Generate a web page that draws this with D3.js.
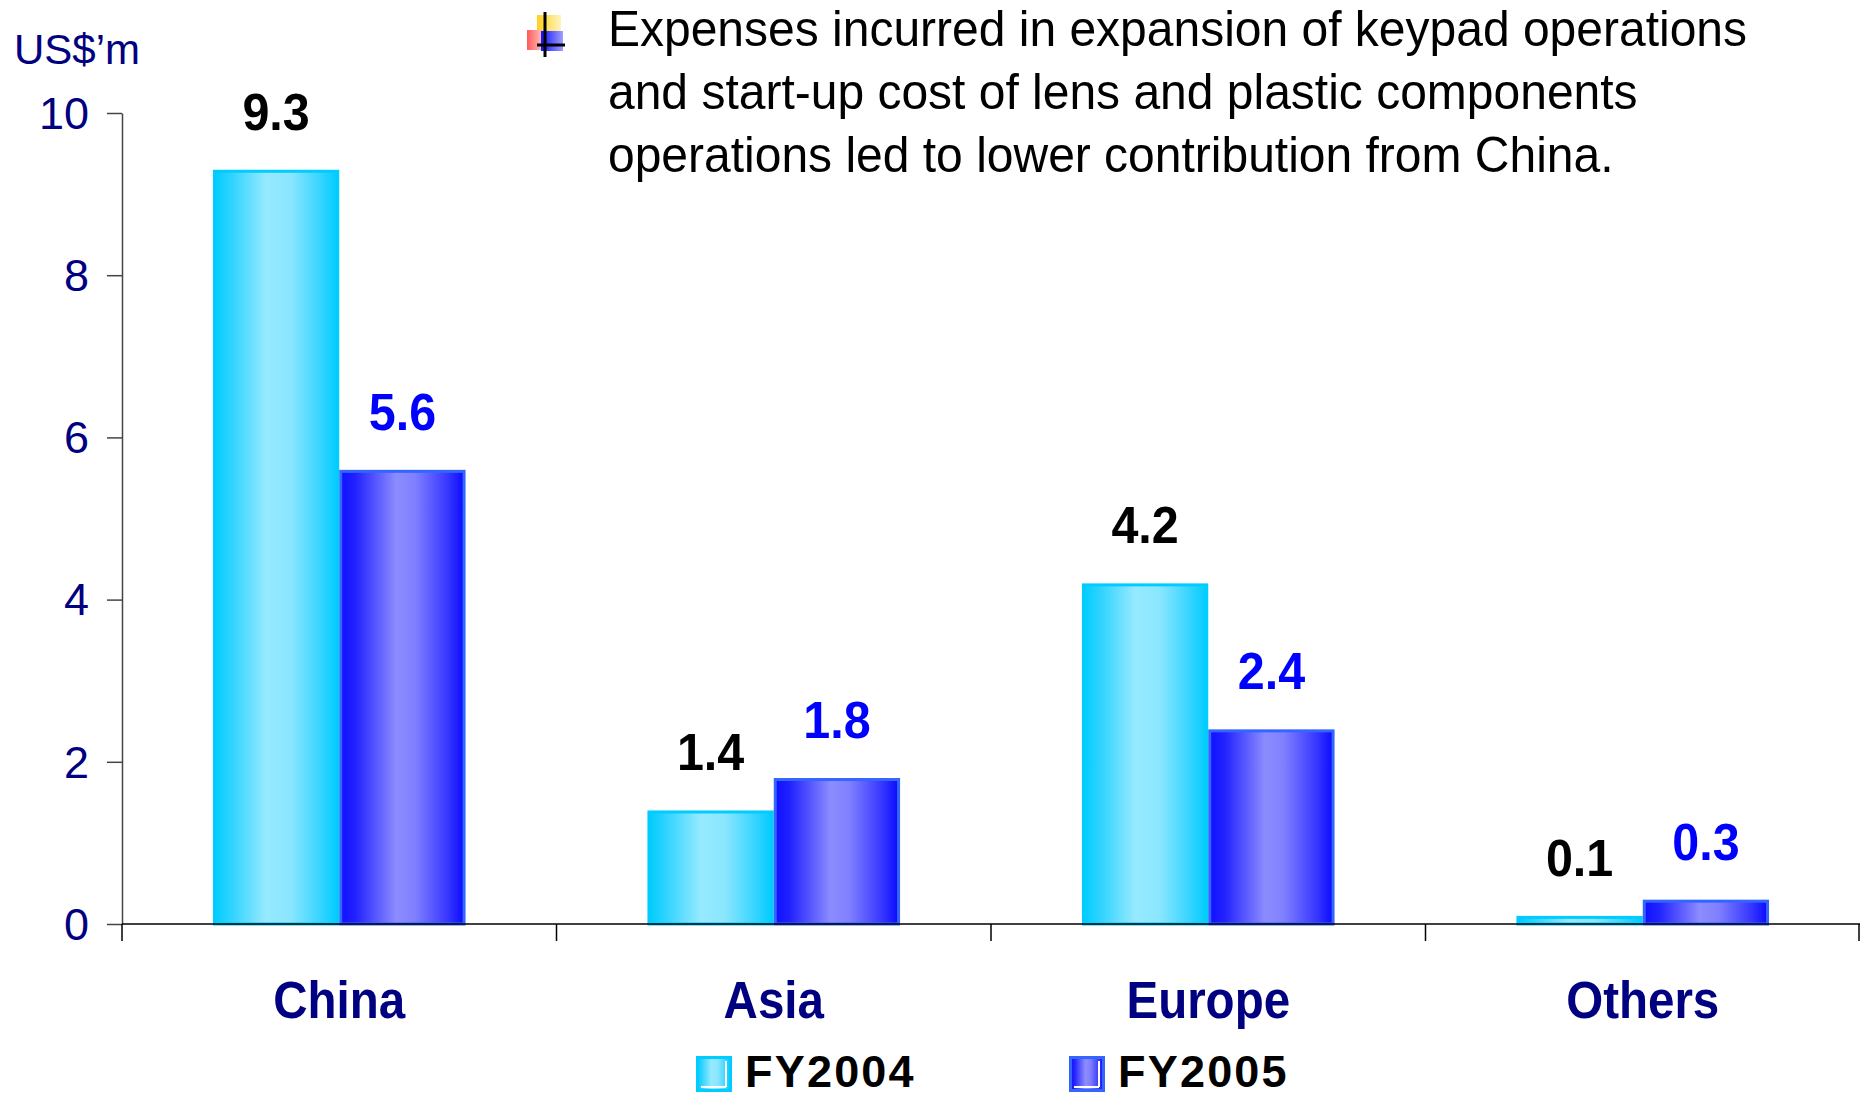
<!DOCTYPE html>
<html><head><meta charset="utf-8">
<script src="https://cdn.jsdelivr.net/npm/d3@7"></script>
<style>body{margin:0;background:#fff}svg{display:block}</style>
</head><body>
<svg id="c" width="1860" height="1097"></svg>
<script>
const categories = ["China", "Asia", "Europe", "Others"];
const seriesNames = ["FY2004", "FY2005"];
const fy2004 = [9.3, 1.4, 4.2, 0.1];
const fy2005 = [5.6, 1.8, 2.4, 0.3];
const yTicks = [0, 2, 4, 6, 8, 10];
const unitLabel = "US$\u2019m";
const noteLines = [
  "Expenses incurred in expansion of keypad operations",
  "and start-up cost of lens and plastic components",
  "operations led to lower contribution from China."
];

const svg = d3.select("#c");
const W = 1860, H = 1097;
const m = {left: 122, right: 0, top: 113, bottom: H - 924};
const FONT = "Arial, 'Liberation Sans', sans-serif";

const defs = svg.append("defs");
function grad(id, stops) {
  const g = defs.append("linearGradient").attr("id", id).attr("x1", "0").attr("x2", "1").attr("y1", "0").attr("y2", "0");
  stops.forEach(s => g.append("stop").attr("offset", s[0]).attr("stop-color", s[1]));
}
grad("g0", [[0, "#00CCFF"], [0.15, "#33D4FF"], [0.42, "#96EAFF"], [0.62, "#8AE6FF"], [0.85, "#3AD5FF"], [1, "#00CCFF"]]);
grad("g1", [[0, "#1010FF"], [0.12, "#2222FF"], [0.45, "#8C8CFF"], [0.6, "#8080FF"], [0.88, "#3333FF"], [1, "#0A0AFF"]]);
const fills = ["url(#g0)", "url(#g1)"];
const strokes = ["#00CCFF", "#3366FF"];
const labelColors = ["#000000", "#0000FF"];

const x0 = d3.scaleBand().domain(categories).range([m.left, W - m.right]).paddingInner(0).paddingOuter(0);
const x1 = d3.scaleBand().domain(seriesNames).range([0, x0.bandwidth()]).paddingInner(0).paddingOuter(0.72);
const y = d3.scaleLinear().domain([0, 10]).range([924, 113]);

const data = categories.map((c, i) => ({cat: c, vals: [fy2004[i], fy2005[i]]}));

// bars
const groups = svg.append("g").selectAll("g").data(data).join("g")
  .attr("transform", d => `translate(${x0(d.cat)},0)`);
groups.selectAll("rect").data(d => d.vals.map((v, k) => ({v, k})))
  .join("rect")
  .attr("x", d => x1(seriesNames[d.k]) + 1.5)
  .attr("width", x1.bandwidth() - 3)
  .attr("y", d => y(d.v) + 1.5)
  .attr("height", d => Math.max(0, y(0) - y(d.v) - 1.5))
  .attr("fill", d => fills[d.k])
  .attr("stroke", d => strokes[d.k])
  .attr("stroke-width", 3);

// value labels
groups.selectAll("text.val").data(d => d.vals.map((v, k) => ({v, k})))
  .join("text").attr("class", "val")
  .attr("transform", d => `translate(${x1(seriesNames[d.k]) + x1.bandwidth() / 2},${y(d.v) - 40}) scale(0.95,1.03)`)
  .attr("text-anchor", "middle")
  .attr("font-family", FONT).attr("font-weight", "bold").attr("font-size", 51)
  .attr("fill", d => labelColors[d.k])
  .text(d => d.v.toFixed(1));

// y axis
const yAxis = svg.append("g").attr("transform", `translate(${m.left},0)`)
  .call(d3.axisLeft(y).tickValues(yTicks).tickSize(15).tickPadding(18).tickSizeOuter(0));
yAxis.select(".domain").attr("stroke", "#444").attr("stroke-width", 1.5);
yAxis.selectAll(".tick line").attr("stroke", "#444").attr("stroke-width", 1.5);
yAxis.selectAll(".tick text").attr("font-family", FONT).attr("font-size", 45)
  .attr("fill", "#000080").attr("dy", "0.34em");

// x axis
const xAxisG = svg.append("g").attr("transform", `translate(0,${y(0)})`);
xAxisG.append("line").attr("x1", m.left).attr("x2", W).attr("stroke", "#000").attr("stroke-width", 1.5);
const bounds = categories.map(c => x0(c)).concat([x0(categories[categories.length - 1]) + x0.bandwidth()]);
xAxisG.selectAll("line.tk").data(bounds).join("line").attr("class", "tk")
  .attr("x1", d => Math.min(d, W - 1)).attr("x2", d => Math.min(d, W - 1)).attr("y1", 0).attr("y2", 17)
  .attr("stroke", "#000").attr("stroke-width", 1.5);
xAxisG.selectAll("text").data(categories).join("text")
  .attr("transform", d => `translate(${x0(d) + x0.bandwidth() / 2},94) scale(0.95,1.03)`)
  .attr("text-anchor", "middle")
  .attr("font-family", FONT).attr("font-weight", "bold").attr("font-size", 50)
  .attr("fill", "#000080").text(d => d);

// unit label
svg.append("text").attr("x", 14).attr("y", 64).attr("font-family", FONT).attr("font-size", 42)
  .attr("fill", "#000080").text(unitLabel);

// legend
const legendX = [696, 1069];
const leg = svg.append("g").selectAll("g").data(seriesNames).join("g")
  .attr("transform", (d, i) => `translate(${legendX[i]},1056)`);
leg.append("rect").attr("x", 1.5).attr("y", 1.5).attr("width", 33).attr("height", 33)
  .attr("fill", (d, i) => fills[i]).attr("stroke", (d, i) => strokes[i]).attr("stroke-width", 3);
leg.append("line").attr("x1", 5).attr("x2", 30).attr("y1", 31).attr("y2", 31).attr("stroke", "#fff").attr("stroke-width", 2);
leg.append("line").attr("x1", 30).attr("x2", 30).attr("y1", 5).attr("y2", 31).attr("stroke", "#fff").attr("stroke-width", 2);
leg.append("text").attr("x", 49).attr("y", 31).attr("font-family", FONT).attr("font-weight", "bold")
  .attr("font-size", 45).attr("letter-spacing", 2.2).attr("fill", "#000").text(d => d);

// bullet icon
const ic = svg.append("g").attr("transform", "translate(527,12)");
const gy = defs.append("linearGradient").attr("id", "gy").attr("x1", 0).attr("x2", 1);
gy.append("stop").attr("offset", 0).attr("stop-color", "#FFD21A");
gy.append("stop").attr("offset", 1).attr("stop-color", "#FFF3C0");
const gr = defs.append("linearGradient").attr("id", "gr").attr("x1", 0).attr("x2", 1);
gr.append("stop").attr("offset", 0).attr("stop-color", "#FF5A5A");
gr.append("stop").attr("offset", 1).attr("stop-color", "#FFD0D0");
const gb = defs.append("linearGradient").attr("id", "gb").attr("x1", 0).attr("x2", 1);
gb.append("stop").attr("offset", 0).attr("stop-color", "#1010FF");
gb.append("stop").attr("offset", 1).attr("stop-color", "#A0A0FF");
ic.append("rect").attr("x", 10).attr("y", 3).attr("width", 24).attr("height", 18).attr("fill", "url(#gy)");
ic.append("rect").attr("x", 0).attr("y", 18).attr("width", 18).attr("height", 20).attr("fill", "url(#gr)");
ic.append("rect").attr("x", 14).attr("y", 19).attr("width", 22).attr("height", 20).attr("fill", "url(#gb)");
ic.append("line").attr("x1", 18).attr("x2", 18).attr("y1", 0).attr("y2", 45).attr("stroke", "#000").attr("stroke-width", 3);
ic.append("line").attr("x1", 10).attr("x2", 38).attr("y1", 33).attr("y2", 33).attr("stroke", "#000").attr("stroke-width", 3);

// note text
svg.append("g").selectAll("text").data(noteLines).join("text")
  .attr("transform", (d, i) => `translate(608,${46 + i * 63}) scale(1,1.04)`)
  .attr("font-family", FONT).attr("font-size", 48).attr("fill", "#000").text(d => d);
</script>
</body></html>
